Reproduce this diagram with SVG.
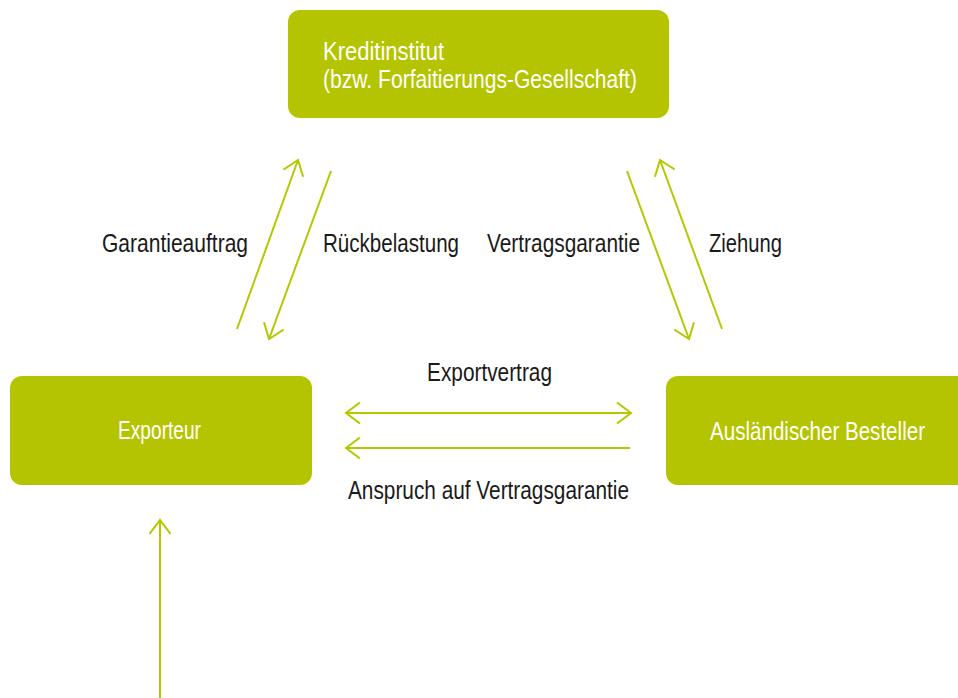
<svg xmlns="http://www.w3.org/2000/svg" width="958" height="698" viewBox="0 0 958 698">
<style>
.box{fill:#b4c400}
.wt{fill:#ffffff;font-family:"Liberation Sans",Arial,sans-serif;font-size:25px}
.lb{fill:#1a1a1a;font-family:"Liberation Sans",Arial,sans-serif;font-size:25px}
.ln{stroke:#b4c800;stroke-width:2;fill:none}
</style>
<defs>
<marker id="ah" viewBox="-15 -11 17 22" refX="0" refY="0" markerWidth="17" markerHeight="22" markerUnits="userSpaceOnUse" orient="auto-start-reverse">
<path d="M-14,-10.5 L0,0 L-14,10.5" fill="none" stroke="#b4c800" stroke-width="2"/>
</marker>
</defs>
<rect width="958" height="698" fill="#ffffff"/>
<g id="kreditinstitut">
<rect class="box" x="288" y="10" width="381" height="108" rx="12"/>
<text class="wt" x="323" y="60" textLength="121" lengthAdjust="spacingAndGlyphs">Kreditinstitut</text>
<text class="wt" x="323" y="88" textLength="314" lengthAdjust="spacingAndGlyphs">(bzw. Forfaitierungs-Gesellschaft)</text>
</g>
<g id="exporteur">
<rect class="box" x="10" y="376" width="302" height="109" rx="12"/>
<text class="wt" x="118" y="439" textLength="83" lengthAdjust="spacingAndGlyphs">Exporteur</text>
</g>
<g id="besteller">
<path class="box" d="M678,376 H958 V485 H678 A12,12 0 0 1 666,473 V388 A12,12 0 0 1 678,376 Z"/>
<text class="wt" x="710" y="440" textLength="215" lengthAdjust="spacingAndGlyphs">Ausländischer Besteller</text>
</g>
<g id="connectors">
<line class="ln" x1="237" y1="329" x2="298" y2="160" marker-end="url(#ah)"/>
<line class="ln" x1="331" y1="171" x2="269" y2="339" marker-end="url(#ah)"/>
<line class="ln" x1="627" y1="171" x2="689" y2="339" marker-end="url(#ah)"/>
<line class="ln" x1="722" y1="329" x2="660" y2="160" marker-end="url(#ah)"/>
<line class="ln" x1="346" y1="413" x2="631" y2="413" marker-start="url(#ah)" marker-end="url(#ah)"/>
<line class="ln" x1="630" y1="448" x2="346" y2="448" marker-end="url(#ah)"/>
<line class="ln" x1="160" y1="698" x2="160" y2="520" marker-end="url(#ah)"/>
</g>
<g id="labels">
<text class="lb" x="102" y="252" textLength="146" lengthAdjust="spacingAndGlyphs">Garantieauftrag</text>
<text class="lb" x="323" y="252" textLength="136" lengthAdjust="spacingAndGlyphs">Rückbelastung</text>
<text class="lb" x="487" y="252" textLength="153" lengthAdjust="spacingAndGlyphs">Vertragsgarantie</text>
<text class="lb" x="709" y="252" textLength="73" lengthAdjust="spacingAndGlyphs">Ziehung</text>
<text class="lb" x="427" y="381" textLength="125" lengthAdjust="spacingAndGlyphs">Exportvertrag</text>
<text class="lb" x="348" y="499" textLength="281" lengthAdjust="spacingAndGlyphs">Anspruch auf Vertragsgarantie</text>
</g>
</svg>
